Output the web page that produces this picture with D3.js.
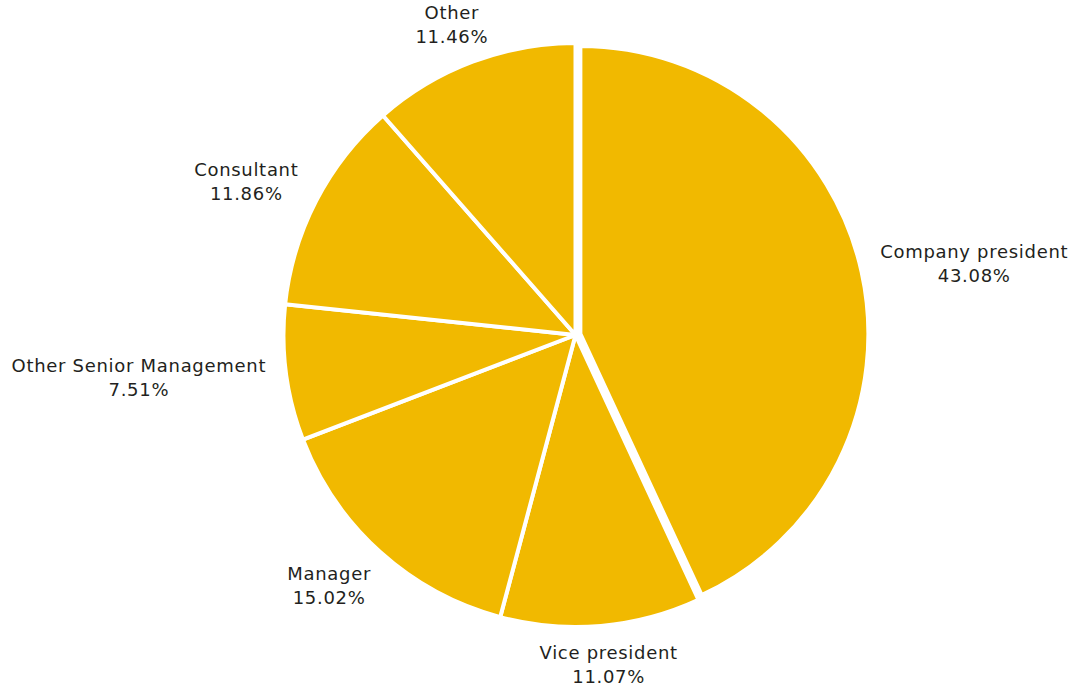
<!DOCTYPE html>
<html>
<head>
<meta charset="utf-8">
<script src="https://cdn.jsdelivr.net/npm/d3@7"></script>
<style>
  html, body { margin: 0; padding: 0; background: #fff; }
  svg { display: block; }
  .lbl { font-family: "DejaVu Sans", sans-serif; font-size: 18px; letter-spacing: 0.7px; fill: #231f20; }
</style>
</head>
<body>
<svg id="chart" width="1080" height="691"></svg>
<script>
// Respondent job titles, share of total (%)
const categories = ["Company president", "Vice president", "Manager", "Other Senior Management", "Consultant", "Other"];
const shares = [43.08, 11.07, 15.02, 7.51, 11.86, 11.46];
const pulledCategory = "Company president";

const width = 1080, height = 691;
const cx = 575.5, cy = 335;
const radius = 292;          // outer edge incl. half the white stroke
const pulledRadius = 288;
const pullDistance = 5;
const labelRadius = 312;     // labels touch this circle at each slice's mid-angle
const lineHeight = 24;
const capHeight = 13;
const fillColor = "#f1b900";

const svg = d3.select("#chart");
const g = svg.append("g").attr("transform", `translate(${cx},${cy})`);

const data = categories.map((c, i) => ({ category: c, value: shares[i] }));
const pie = d3.pie().sort(null).value(d => d.value);
const arcs = pie(data);

const arc = d3.arc().innerRadius(0);

g.selectAll("path.slice")
  .data(arcs)
  .join("path")
  .attr("class", "slice")
  .attr("d", d => arc.outerRadius(d.data.category === pulledCategory ? pulledRadius : radius)(d))
  .attr("transform", d => {
    if (d.data.category !== pulledCategory) return null;
    const mid = (d.startAngle + d.endAngle) / 2;
    return `translate(${pullDistance * Math.sin(mid)},${-pullDistance * Math.cos(mid)})`;
  })
  .attr("fill", fillColor)
  .attr("stroke", "#fff")
  .attr("stroke-width", 4)
  .attr("stroke-linejoin", "miter");

// Two-line labels: category name and percentage, placed just outside each slice
const labels = g.selectAll("g.label")
  .data(arcs)
  .join("g")
  .attr("class", "label");

const texts = labels.append("text")
  .attr("class", "lbl")
  .attr("text-anchor", "middle");

texts.append("tspan")
  .attr("x", 0)
  .attr("y", 0)
  .text(d => d.data.category);
texts.append("tspan")
  .attr("x", 0)
  .attr("y", lineHeight)
  .text(d => d.data.value.toFixed(2) + "%");

labels.each(function (d) {
  const el = d3.select(this);
  const bb = this.getBBox();
  // visible ink box: cap top of first line to baseline of second
  const boxW = bb.width;
  const boxH = capHeight + lineHeight;
  const boxCy = (-capHeight + lineHeight) / 2;
  const mid = (d.startAngle + d.endAngle) / 2;
  const s = Math.sin(mid), c = -Math.cos(mid);
  // anchor point on the label circle, box pushed outward so its edge touches it
  const ax = labelRadius * s, ay = labelRadius * c;
  const m = Math.max(Math.abs(s), Math.abs(c));
  const centerX = ax + (boxW / 2) * (s / m);
  const centerY = ay + (boxH / 2) * (c / m);
  const bcx = bb.x + bb.width / 2;
  el.attr("transform", `translate(${centerX - bcx},${centerY - boxCy})`);
});
</script>
</body>
</html>
